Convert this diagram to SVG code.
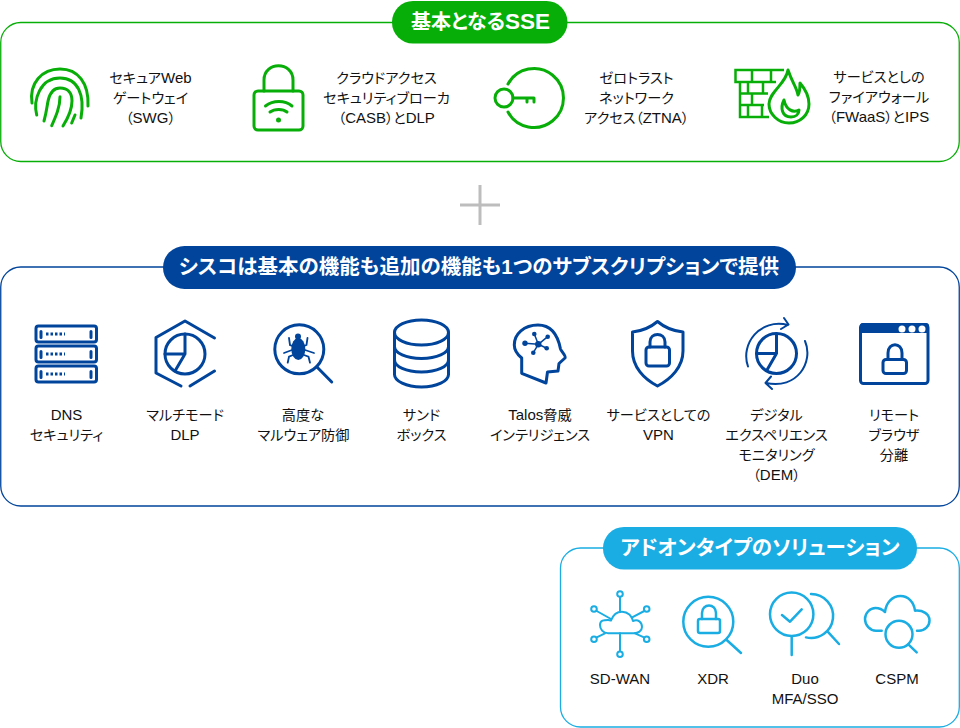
<svg xmlns="http://www.w3.org/2000/svg" width="960" height="728" viewBox="0 0 960 728">
<style>
text{font-family:"Liberation Sans","Noto Sans CJK JP",sans-serif;text-anchor:middle;fill:#111}
.l{font-size:14.2px;font-feature-settings:"palt"}
.e{font-size:15px}
.t{font-size:20.5px;font-weight:700;fill:#fff;font-feature-settings:"palt"}
.g,.b,.c{fill:none;stroke-linecap:round;stroke-linejoin:round}
.g{stroke:#08ae08;stroke-width:3}
.b{stroke:#00449b;stroke-width:3}
.c{stroke:#1aade3;stroke-width:2.5}
</style>
<rect width="960" height="728" fill="#fff"/>
<g id="frames" fill="none">
<rect x="0.75" y="22.5" width="958.5" height="139" rx="20" stroke="#08ae08" stroke-width="1.3"/>
<rect x="0.75" y="267" width="958.5" height="239" rx="20" stroke="#00449b" stroke-width="1.3"/>
<rect x="560.5" y="548" width="398.8" height="179" rx="20" stroke="#1aade3" stroke-width="1.3"/>
</g>
<g id="plus" stroke="#bdbdbd" stroke-width="3"><path d="M460 205H500M480 185V225"/></g>
<g id="title-sse"><rect x="392" y="1" width="175.500" height="42.500" rx="21" fill="#08ae08"/><text class="t" x="480.500" y="29" style="font-size:20px">基本となる<tspan font-size="22.500">SSE</tspan></text></g>
<g id="title-cisco"><rect x="163" y="246" width="633" height="43" rx="21.500" fill="#00449b"/><text class="t" x="479" y="274">シスコは基本の機能も追加の機能も1つのサブスクリプションで提供</text></g>
<g id="title-addon"><rect x="603" y="527" width="314" height="42.500" rx="21" fill="#1aade3"/><text class="t" x="760" y="555">アドオンタイプのソリューション</text></g>

<g id="swg"><g class="g">
<path d="M32 103C29 83 42 69 60 69C78 69 89 83 88 106"/>
<path d="M36.700 115C33 100 40 78 60 78C78 78 85 95 81 118"/>
<path d="M44 121C47 110 47 105 48.300 100C50 93 54 88 60 88C68 88 72 93 72 101C72 110 68 118 63 126"/>
<path d="M51.700 125.700C56 116 60 107 60 96.700"/>
<path d="M75 115L71.700 123"/></g>
<text class="l" x="150.500" y="83">セキュア<tspan class="e">Web</tspan></text><text class="l" x="150.500" y="103">ゲートウェイ</text><text class="l" x="150.500" y="123">（<tspan class="e">SWG</tspan>）</text></g>

<g id="casb"><g class="g">
<rect x="254" y="91" width="49" height="39" rx="4"/>
<path d="M264 91V80C264 61 293 61 293 80V91"/>
<path d="M265.500 106C273 100 285 100 292 106M270 112C274.500 108.500 283 108.500 287 112"/></g>
<circle cx="278.500" cy="120" r="2.500" fill="#08ae08"/>
<text class="l" x="386.500" y="83">クラウドアクセス</text><text class="l" x="386.500" y="103">セキュリティブローカ</text><text class="l" x="386.500" y="123">（<tspan class="e">CASB</tspan>）と<tspan class="e">DLP</tspan></text></g>

<g id="ztna"><g class="g">
<path d="M508 84A29.500 29.500 0 1 1 508 112"/>
<circle cx="504" cy="98" r="9"/>
<path d="M513 98H534M527 98V102M534 98V102"/></g>
<text class="l" x="636.500" y="83">ゼロトラスト</text><text class="l" x="636.500" y="103">ネットワーク</text><text class="l" x="636.500" y="123">アクセス（<tspan class="e">ZTNA</tspan>）</text></g>

<g id="fwaas"><g class="g" style="stroke-linecap:butt;stroke-linejoin:miter;stroke-width:2.500">
<path d="M784 70H735.500V82H740V117H769M735.500 82H776M740 93.500H768M740 105H764M752 70V82M771 70V82M748 82V93.500M763 82V93.500M752 93.500V105M748 105V117M762 105V117"/></g>
<g class="g"><path d="M788 70C792 82 797 88 798 95C800 92 800 87 800 83C806 90 809 97 809 104C809 115 800 123 789 123C778 123 769 114 769 104C769 92 786 84 788 70Z"/>
<path d="M784 100C780 108 782 117 791 117C796 117 799 114 799 110C793 113 786 110 784 100Z"/></g>
<text class="l" x="879" y="82">サービスとしの</text><text class="l" x="879" y="102">ファイアウォール</text><text class="l" x="879" y="122">（<tspan class="e">FWaaS</tspan>）と<tspan class="e">IPS</tspan></text></g>

<g id="dns"><g class="b">
<rect x="36" y="326" width="60.500" height="16" rx="2.500"/><rect x="36" y="346" width="60.500" height="16" rx="2.500"/><rect x="36" y="366" width="60.500" height="16" rx="2.500"/>
<path d="M41 331.500V337.500M91 331.500V337.500M41 351.500V357.500M91 351.500V357.500M41 371.500V377.500M91 371.500V377.500"/>
<path d="M46 334H65M46 354H65M46 374H65" stroke-dasharray="2.500 2" style="stroke-linecap:butt"/></g>
<text class="e" x="66.500" y="420">DNS</text><text class="l" x="66.500" y="440">セキュリティ</text></g>

<g id="dlp"><g class="b">
<path d="M214.500 338L185 321L156 337.500V373L181 386M190 386L214.500 371"/>
<circle cx="185" cy="354" r="20"/><path d="M185 334V354H165M185 354L175 371"/></g>
<text class="l" x="185" y="420">マルチモード</text><text class="e" x="185" y="440">DLP</text></g>

<g id="malware"><g class="b">
<circle cx="299.300" cy="349.300" r="24.500"/><path d="M316.700 366.700L331.700 382"/></g>
<ellipse cx="298.300" cy="349" rx="7" ry="11" fill="#00449b"/><circle cx="298" cy="336.500" r="3" fill="#00449b"/>
<path d="M289 338L290 345L295 347M307.500 338L306.500 345L302 347M284 353L292 350M314 353L305 350M287.700 362.700L289 356.700L293 355M310 362.700L308.500 356.700L304 355" fill="none" stroke="#00449b" stroke-width="1.800" stroke-linecap="round"/>
<text class="l" x="303" y="420">高度な</text><text class="l" x="303.500" y="440">マルウェア防御</text></g>

<g id="sandbox"><g class="b">
<ellipse cx="421.500" cy="332.500" rx="27" ry="12.500"/>
<path d="M394.500 332.500V374.500C394.500 381 406 387 421.500 387C437 387 448.500 381 448.500 374.500V332.500"/>
<path d="M394.500 346.500C394.500 353 406 358.500 421.500 358.500C437 358.500 448.500 353 448.500 346.500M394.500 360C394.500 366.500 406 372 421.500 372C437 372 448.500 366.500 448.500 360"/></g>
<text class="l" x="421.500" y="420">サンド</text><text class="l" x="421.500" y="440">ボックス</text></g>

<g id="talos"><g class="b">
<path d="M521.700 373.300L546 383L547.500 372L558 371L559 363.500L565 358C566.500 356 561 351 560.500 349C558 336 552 325 538 325C524 325 514.300 334 514.300 345C514.300 350 518 355 521.700 358Z"/></g>
<g fill="#00449b"><circle cx="538.300" cy="344.300" r="3.200"/><circle cx="534.300" cy="334" r="2.300"/><circle cx="547.700" cy="336.700" r="2.300"/><circle cx="546.700" cy="348.300" r="2.300"/><circle cx="533.300" cy="352.700" r="2.300"/><circle cx="525" cy="343.300" r="2.700"/></g>
<path d="M538.300 344.300L534.300 334M538.300 344.300L547.700 336.700M538.300 344.300L546.700 348.300M538.300 344.300L533.300 352.700M538.300 344.300L525 343.300" stroke="#00449b" stroke-width="1.500"/>
<text class="l" x="540" y="420"><tspan class="e">Talos</tspan>脅威</text><text class="l" x="540" y="440">インテリジェンス</text></g>

<g id="vpn"><g class="b">
<path d="M657.500 321.500C651 327 642 331 632.500 332V351C632.500 367 644 379 657.500 386C671 379 683 367 683 351V332C673 331 664 327 657.500 321.500Z"/>
<rect x="646" y="347" width="23.500" height="19" rx="3"/><path d="M650 347V342C650 332 665 332 665 342V347"/></g>
<text class="l" x="658.500" y="420">サービスとしての</text><text class="e" x="658.500" y="440">VPN</text></g>

<g id="dem"><g class="b">
<circle cx="776.500" cy="353.500" r="20"/><path d="M776.500 334V353.500H757M776.500 353.500L767 370"/></g>
<g class="b" style="stroke-width:2"><path d="M748 366.500C740 344 760 318 788 325M784 318L788.500 324.500L781 329M805 341C814 362 797 390 766 383M771 376.500L765.500 383L772 389"/></g>
<text class="l" x="776.500" y="420">デジタル</text><text class="l" x="776.500" y="440">エクスペリエンス</text><text class="l" x="776.500" y="460">モニタリング</text><text class="l" x="776.500" y="480">（<tspan class="e">DEM</tspan>）</text></g>

<g id="rbi"><rect x="860.500" y="324.500" width="67.500" height="59" rx="3" fill="none" stroke="#00449b" stroke-width="3"/>
<path d="M860 333V326Q860 323 863 323H926Q929 323 929 326V333Z" fill="#00449b"/>
<g fill="#fff"><circle cx="902" cy="329" r="3.500"/><circle cx="912" cy="329" r="3.500"/><circle cx="922" cy="329" r="3.500"/></g>
<g class="b"><rect x="883" y="359.500" width="23.500" height="14" rx="3"/><path d="M888 359.500V353C888 342 902 342 902 353V359.500"/></g>
<text class="l" x="894" y="420">リモート</text><text class="l" x="894" y="440">ブラウザ</text><text class="l" x="894" y="460">分離</text></g>

<g id="sdwan"><g class="c" style="stroke-width:2">
<path d="M608 633.300C603 633.300 600 629 600 625C600 620 604 620 608 620C609 620 610 620 611 620.500C613 615 617 611.700 622 611.700C628 611.700 632 616 633 621C638 619 642 622 642 627C642 631 638 633.300 634 633.300Z"/>
<path d="M620 597V611M620 633.300V651M596.700 611L611 619M644.300 611L631.700 617.700M596.700 637.300L605 633.300M644 637.300L635 633.300"/>
<circle cx="620" cy="594" r="2.800"/><circle cx="594" cy="609" r="2.800"/><circle cx="646.700" cy="609" r="2.800"/><circle cx="594" cy="639.300" r="2.800"/><circle cx="646.700" cy="639.300" r="2.800"/><circle cx="620" cy="654.300" r="2.800"/></g>
<text class="e" x="620" y="684">SD-WAN</text></g>

<g id="xdr"><g class="c"><circle cx="708.300" cy="621.700" r="25"/><path d="M726.700 640L741 653"/>
<rect x="698" y="619" width="22" height="14" rx="2"/><path d="M702 619V613C702 603 716 603 716 613V619"/></g>
<text class="e" x="713" y="684">XDR</text></g>

<g id="duo"><g class="c"><circle cx="791.700" cy="614.300" r="21.700"/><path d="M791.700 637V655M782 615L790 621.700L801.700 609.300"/>
<path d="M811 594A22 22 0 1 1 806 637.400M827.700 631.700L839 644"/></g>
<text class="e" x="805" y="684">Duo</text><text class="e" x="805" y="704">MFA/SSO</text></g>

<g id="cspm"><g class="c"><path d="M881.700 630.700H876C870 630.700 865 625 865 619C865 613 870 608 875.500 608C879 608 882.500 609.500 885 612C886 603 892 596 900.500 596C908 596 914 602 915 610.700C923 610 929.500 614 929.500 620.500C929.500 626 925 630.700 919 630.700H917"/>
<circle cx="899" cy="634.300" r="13.500"/><path d="M908.300 644.300L916.700 652.300"/></g>
<text class="e" x="897" y="684">CSPM</text></g>
</svg>
